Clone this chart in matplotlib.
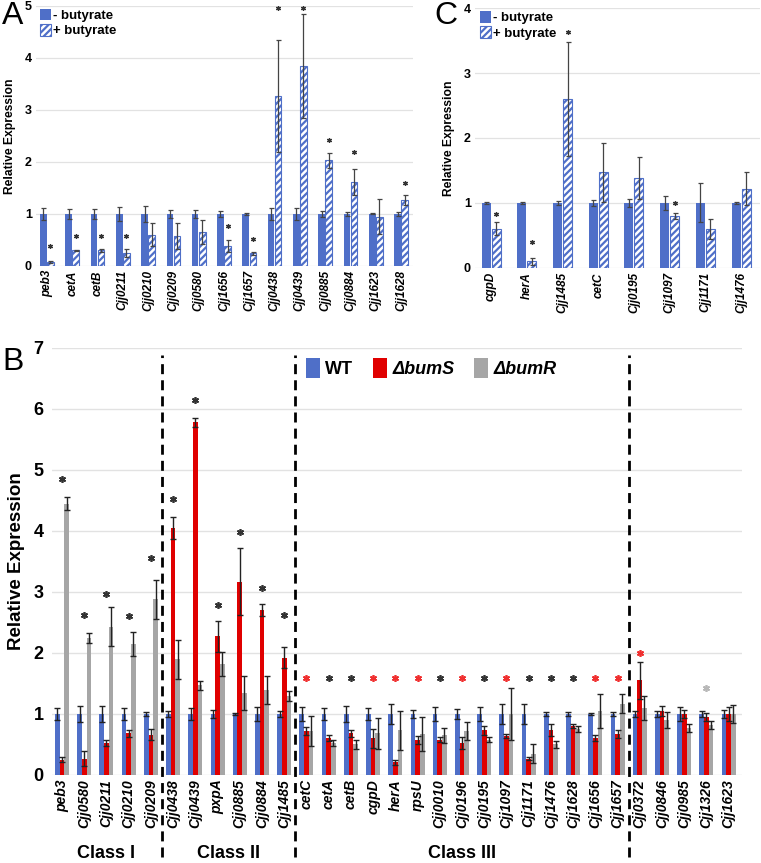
import numpy as np
import matplotlib
matplotlib.use("Agg")
import matplotlib.pyplot as plt
from matplotlib.patches import Patch

plt.rcParams['font.family'] = ['Liberation Sans', 'DejaVu Sans']
plt.rcParams['hatch.linewidth'] = 1.6

BLUE = '#4f6fc8'
RED = '#e00000'
GRAY = '#a6a6a6'
GRID = '#e2e2e2'

# ---- panel A: butyrate, set 1
genes_a = ['peb3', 'cetA', 'cetB', 'Cjj0211', 'Cjj0210', 'Cjj0209', 'Cjj0580', 'Cjj1656',
           'Cjj1657', 'Cjj0438', 'Cjj0439', 'Cjj0885', 'Cjj0884', 'Cjj1623', 'Cjj1628']
a_minus = [1, 1, 1, 1, 1, 1, 1, 1, 1, 1, 1, 1, 1, 1, 1]
a_minus_err = [0.12, 0.1, 0.09, 0.14, 0.15, 0.07, 0.07, 0.06, 0.02, 0.11, 0.11, 0.06, 0.04, 0.01, 0.04]
a_plus = [0.07, 0.3, 0.3, 0.25, 0.6, 0.58, 0.65, 0.38, 0.24, 3.27, 3.85, 2.03, 1.62, 0.95, 1.27]
a_plus_err = [0.02, 0.01, 0.03, 0.08, 0.22, 0.25, 0.23, 0.12, 0.03, 1.07, 1.0, 0.14, 0.25, 0.33, 0.09]
a_star = [0.38, 0.58, 0.58, 0.58, None, None, None, 0.77, 0.51, 4.95, 4.95, 2.42, 2.2, None, 1.6]

# ---- panel C: butyrate, set 2
genes_c = ['cgpD', 'herA', 'Cjj1485', 'cetC', 'Cjj0195', 'Cjj1097', 'Cjj1171', 'Cjj1476']
c_minus = [1, 1, 1, 1, 1, 1, 1, 1]
c_minus_err = [0.02, 0.01, 0.03, 0.05, 0.06, 0.11, 0.3, 0.02]
c_plus = [0.6, 0.1, 2.6, 1.47, 1.38, 0.8, 0.6, 1.22]
c_plus_err = [0.1, 0.06, 0.88, 0.46, 0.32, 0.04, 0.15, 0.25]
c_star = [0.83, 0.4, 3.63, None, None, 1.0, None, None]

# ---- panel B: WT vs mutants
genes_b = ['peb3', 'Cjj0580', 'Cjj0211', 'Cjj0210', 'Cjj0209',
           'Cjj0438', 'Cjj0439', 'pxpA', 'Cjj0885', 'Cjj0884', 'Cjj1485',
           'cetC', 'cetA', 'cetB', 'cgpD', 'herA', 'rpsU', 'Cjj0010', 'Cjj0196', 'Cjj0195',
           'Cjj1097', 'Cjj1171', 'Cjj1476', 'Cjj1628', 'Cjj1656', 'Cjj1657',
           'Cjj0372', 'Cjj0846', 'Cjj0985', 'Cjj1326', 'Cjj1623']
wt = [1.0] * 31
wt_err = [0.1, 0.13, 0.13, 0.1, 0.04,
          0.05, 0.1, 0.07, 0.02, 0.12, 0.05,
          0.12, 0.1, 0.13, 0.1, 0.17, 0.07, 0.11, 0.08, 0.11,
          0.17, 0.17, 0.03, 0.03, 0.02, 0.04,
          0.05, 0.05, 0.12, 0.05, 0.07]
bums = [0.25, 0.27, 0.53, 0.68, 0.66,
        4.05, 5.78, 2.27, 3.17, 2.7, 1.92,
        0.72, 0.6, 0.68, 0.6, 0.21, 0.57, 0.58, 0.52, 0.73,
        0.64, 0.27, 0.74, 0.8, 0.6, 0.67,
        1.55, 1.05, 1.0, 0.95, 1.0]
bums_err = [0.04, 0.12, 0.05, 0.05, 0.09,
            0.18, 0.08, 0.26, 0.55, 0.1, 0.17,
            0.07, 0.05, 0.05, 0.15, 0.04, 0.07, 0.04, 0.1, 0.07,
            0.03, 0.03, 0.1, 0.03, 0.05, 0.06,
            0.3, 0.08, 0.07, 0.07, 0.12]
bumr = [4.45, 2.25, 2.43, 2.15, 2.88,
        1.9, 1.47, 1.82, 1.35, 1.4, 1.3,
        0.72, 0.53, 0.5, 0.68, 0.73, 0.67, 0.65, 0.72, 0.58,
        1.0, 0.35, 0.5, 0.75, 1.05, 1.17,
        1.1, 0.9, 0.77, 0.82, 1.0]
bumr_err = [0.1, 0.08, 0.32, 0.2, 0.32,
            0.32, 0.07, 0.2, 0.28, 0.23, 0.08,
            0.24, 0.05, 0.07, 0.25, 0.32, 0.28, 0.12, 0.15, 0.04,
            0.42, 0.15, 0.06, 0.05, 0.28, 0.15,
            0.2, 0.13, 0.07, 0.06, 0.15]
b_star_y = [4.85, 2.62, 2.97, 2.6, 3.55,
            4.53, 6.15, 2.78, 3.98, 3.07, 2.62,
            1.59, 1.59, 1.59, 1.59, 1.59, 1.59, 1.59, 1.59, 1.59,
            1.59, 1.59, 1.59, 1.59, 1.59, 1.59,
            2.0, None, None, 1.42, None]
b_star_c = ['k', 'k', 'k', 'k', 'k',
            'k', 'k', 'k', 'k', 'k', 'k',
            'r', 'k', 'k', 'r', 'r', 'r', 'k', 'r', 'k',
            'r', 'k', 'k', 'k', 'r', 'r',
            'r', None, None, 'g', None]
class_names = ['Class I', 'Class II', 'Class III']
class_centers = [2, 7.5, 18]
class_breaks = [4.5, 10.5, 25.5]

star_colors = {'k': '#333333', 'r': '#f03030', 'g': '#b8b8b8'}

fig = plt.figure(figsize=(7.61, 8.63), dpi=100)


def butyrate_panel(ax, genes, minus, minus_err, plus, plus_err, stars, ymax, off, w):
    x = np.arange(len(genes))
    ax.bar(x - off, minus, w, color=BLUE, zorder=2, label='- butyrate')
    ax.bar(x + off, plus, w, color='white', edgecolor=BLUE, hatch='/////',
           linewidth=0.8, zorder=2, label='+ butyrate')
    ax.errorbar(x - off, minus, yerr=minus_err, fmt='none', ecolor='#444444',
                elinewidth=0.9, capsize=1.8, capthick=0.9, zorder=3)
    ax.errorbar(x + off, plus, yerr=plus_err, fmt='none', ecolor='#444444',
                elinewidth=0.9, capsize=1.8, capthick=0.9, zorder=3)
    for xi, s in zip(x, stars):
        if s is not None:
            ax.plot(xi + off, s, marker=(6, 2, 0), ms=3.5, mew=0.9, color='#333333',
                    zorder=4, clip_on=False)
    ax.set_ylim(0, ymax)
    ax.set_xlim(-0.45, len(genes) - 0.5)
    ax.set_yticks(range(ymax + 1))
    ax.set_xticks(x)
    ax.set_xticklabels(genes, rotation=90, style='italic', fontweight='bold', fontsize=8.5)
    ax.tick_params(axis='both', length=0, pad=3)
    ax.tick_params(axis='y', labelsize=9)
    for lab in ax.get_yticklabels():
        lab.set_fontweight('bold')
    ax.yaxis.grid(True, color=GRID, lw=0.9, zorder=0)
    ax.set_axisbelow(True)
    for sp in ax.spines.values():
        sp.set_visible(False)
    ax.set_ylabel('Relative Expression', fontsize=8.7, fontweight='bold', labelpad=6)
    ax.legend(loc='upper left', bbox_to_anchor=(-0.01, 1.02), frameon=False,
              prop={'weight': 'bold', 'size': 9.5}, handlelength=0.8, handleheight=1.0,
              handletextpad=0.2, labelspacing=0.15, borderaxespad=0.2)


# panel A
axA = fig.add_axes([0.0473, 0.6918, 0.4954, 0.3014])
butyrate_panel(axA, genes_a, a_minus, a_minus_err, a_plus, a_plus_err, a_star, 5, 0.14, 0.26)
axA.set_xlim(-0.43, 14.47)

# panel C
axC = fig.add_axes([0.6242, 0.6895, 0.3745, 0.3012])
butyrate_panel(axC, genes_c, c_minus, c_minus_err, c_plus, c_plus_err, c_star, 4, 0.14, 0.25)
axC.set_xlim(-0.45, 7.53)

# panel B
axB = fig.add_axes([0.0683, 0.1020, 0.9067, 0.4948])
xb = np.arange(len(genes_b))
bw = 0.21
axB.bar(xb - bw, wt, bw, color=BLUE, zorder=2, label='WT')
axB.bar(xb, bums, bw, color=RED, zorder=2, label='ΔbumS')
axB.bar(xb + bw, bumr, bw, color=GRAY, zorder=2, label='ΔbumR')
for dx, vals, errs in [(-bw, wt, wt_err), (0, bums, bums_err), (bw, bumr, bumr_err)]:
    axB.errorbar(xb + dx, vals, yerr=errs, fmt='none', ecolor='#222222',
                 elinewidth=1.0, capsize=2.2, capthick=1.0, zorder=3)
for xi, s, c in zip(xb, b_star_y, b_star_c):
    if s is not None:
        axB.plot(xi, s, marker=(6, 2, 0), ms=5, mew=1.2, color=star_colors[c], zorder=4)
for xb_ in class_breaks:
    axB.plot([xb_, xb_], [-1.34, 6.88], color='black', lw=2, ls=(0, (3.6, 2.2)),
             clip_on=False, zorder=5)
for name, cx in zip(class_names, class_centers):
    axB.text(cx, -1.28, name, ha='center', va='center', fontsize=13, fontweight='bold')
axB.set_ylim(0, 7)
axB.set_xlim(-0.45, 30.6)
axB.set_yticks(range(8))
axB.set_xticks(xb)
axB.set_xticklabels(genes_b, rotation=90, style='italic', fontweight='bold', fontsize=10)
axB.tick_params(axis='both', length=0, pad=3)
axB.tick_params(axis='y', labelsize=13, pad=6)
for lab in axB.get_yticklabels():
    lab.set_fontweight('bold')
axB.yaxis.grid(True, color=GRID, lw=1.0, zorder=0)
axB.set_axisbelow(True)
for sp in axB.spines.values():
    sp.set_visible(False)
axB.set_ylabel('Relative Expression', fontsize=13.5, fontweight='bold', labelpad=6)
leg = axB.legend(loc='center', bbox_to_anchor=(0.55, 0.953), ncol=3, frameon=False,
                 prop={'weight': 'bold', 'size': 13}, handlelength=0.75, handleheight=1.3,
                 handletextpad=0.3, columnspacing=1.1)
for t in leg.get_texts()[1:]:
    t.set_style('italic')

# panel letters
fig.text(0.003, 0.999, 'A', fontsize=23, va='top', ha='left')
fig.text(0.571, 0.999, 'C', fontsize=23, va='top', ha='left')
fig.text(0.003, 0.598, 'B', fontsize=23, va='top', ha='left')

fig.savefig('out.png', dpi=100)
